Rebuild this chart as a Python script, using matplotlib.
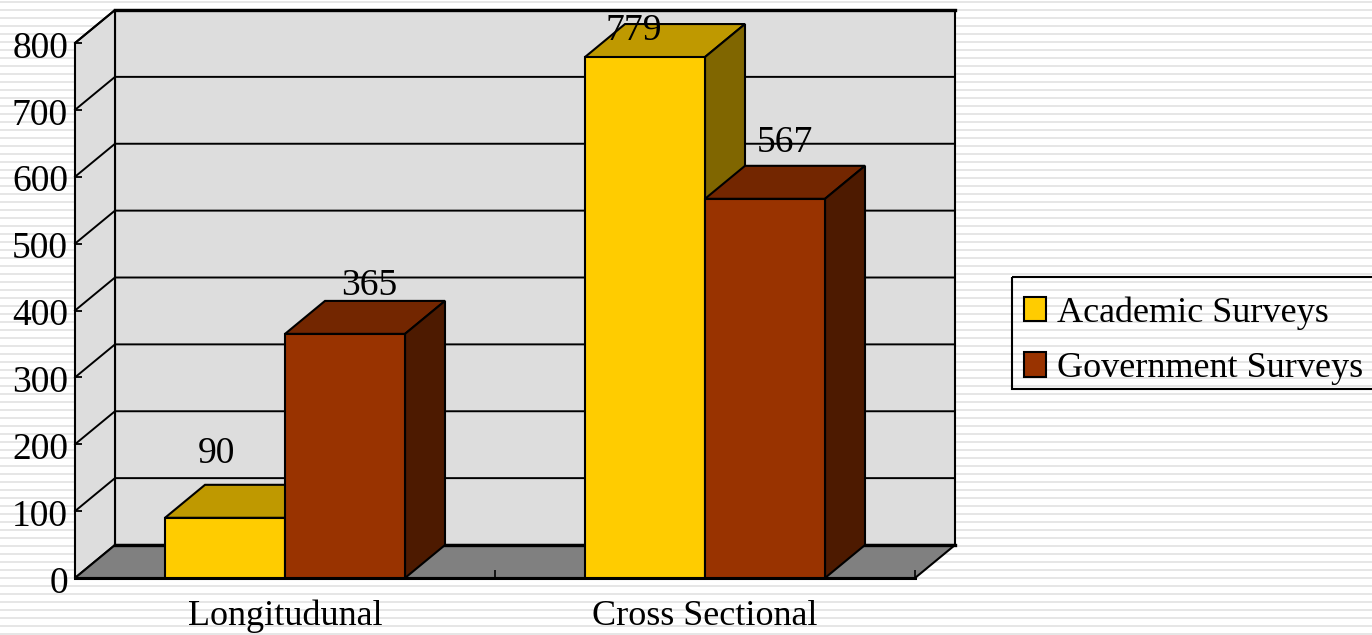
#!/usr/bin/env python3
"""Academic vs government surveys, 3D-look column chart."""

import matplotlib
matplotlib.use('Agg')
import matplotlib.pyplot as plt
from matplotlib.patches import Patch, Polygon, Rectangle
from matplotlib.transforms import ScaledTranslation

categories = ['Longitudunal', 'Cross Sectional']
series_names = ['Academic Surveys', 'Government Surveys']
academic = [90, 779]
government = [365, 567]
y_ticks = [0, 100, 200, 300, 400, 500, 600, 700, 800]

# (front, top, side) shades of each series
academic_colors = ('#FFCC00', '#BF9900', '#806600')
government_colors = ('#993300', '#732600', '#4D1A00')

# value label offset from the bar's top centre, in pixels
academic_shift = [(-9, 64), (-11, 26)]
government_shift = [(24, 48), (20, 56)]

W, H = 1372, 635
FONT = 'Liberation Serif'
plt.rcParams['font.family'] = FONT

fig = plt.figure(figsize=(W / 100, H / 100), dpi=100, facecolor='white')

# striped slide background
bg = fig.add_axes([0, 0, 1, 1], zorder=0)
bg.set_xlim(0, W)
bg.set_ylim(H, 0)
bg.axis('off')
for y in range(2, H, 8):
    bg.axhspan(y - 1.2, y + 1.2, color='#E6E6E6', lw=0)

# legend frame runs off the right edge of the slide
bg.add_patch(Rectangle((1012, 277), 380, 112, fill=False, edgecolor='black', linewidth=1.5))

# front plane of the plot box, in figure pixels
left, right, bottom, top = 75, 915, 578, 43
ax = fig.add_axes([left / W, 1 - bottom / H, (right - left) / W, (bottom - top) / H],
                  zorder=1)
ax.patch.set_visible(False)
ax.set_axisbelow(False)
ax.set_xlim(0, 2)
ax.set_ylim(0, 800)
for s in ax.spines.values():
    s.set_visible(False)

# depth of the 3D box in data units
dx = 40 * 2 / (right - left)
dy = 33 * 800 / (bottom - top)


def poly(points, face, z, lw=1.5):
    ax.add_patch(Polygon(points, closed=True, facecolor=face, edgecolor='black',
                         linewidth=lw, zorder=z, clip_on=False, joinstyle='miter'))


# walls and floor
poly([(dx, dy), (2 + dx, dy), (2 + dx, 800 + dy), (dx, 800 + dy)], '#DDDDDD', 1, 1.5)
poly([(0, 0), (dx, dy), (dx, 800 + dy), (0, 800)], '#DDDDDD', 1, 1.5)
poly([(0, 0), (2, 0), (2 + dx, dy), (dx, dy)], '#808080', 2, 1.5)

# heavier edges on the top and back of the floor
ax.plot([dx, 2 + dx], [800 + dy, 800 + dy], color='black', lw=2.4, zorder=3, clip_on=False)
ax.plot([dx, 2 + dx], [dy, dy], color='black', lw=2.4, zorder=3, clip_on=False)
ax.plot([0, 2], [0, 0], color='black', lw=2.2, zorder=3, clip_on=False)

# gridlines run up the side wall and across the back wall
for v in y_ticks[1:]:
    ax.plot([0, dx, 2 + dx], [v, v + dy, v + dy], color='black', lw=1.4, zorder=2,
            clip_on=False, solid_joinstyle='miter')

bar_w = 120 * 2 / (right - left)


def column(x0, value, colors, z):
    front, top_c, side = colors
    poly([(x0, value), (x0 + bar_w, value), (x0 + bar_w + dx, value + dy), (x0 + dx, value + dy)],
         top_c, z)
    poly([(x0 + bar_w, 0), (x0 + bar_w + dx, dy), (x0 + bar_w + dx, value + dy), (x0 + bar_w, value)],
         side, z)
    ax.bar(x0, value, width=bar_w, align='edge', color=front, edgecolor='black',
           linewidth=1.5, zorder=z)


def value_label(x, value, shift):
    # offsets are given in pixels, 0.72 pt per pixel at dpi 100
    ax.annotate(str(value), (x, value), xytext=(shift[0] * 0.72, shift[1] * 0.72),
                textcoords='offset points', ha='center', va='center',
                fontsize=27, zorder=8, annotation_clip=False)


for i in range(len(categories)):
    column(i + 0.5 - bar_w, academic[i], academic_colors, 4)
    column(i + 0.5, government[i], government_colors, 5)
    value_label(i + 0.5 - bar_w / 2, academic[i], academic_shift[i])
    value_label(i + 0.5 + bar_w / 2, government[i], government_shift[i])

ax.set_yticks(y_ticks)
ax.set_yticklabels([str(v) for v in y_ticks], fontsize=27, va='center')
ax.tick_params(axis='y', direction='in', length=5, width=1.3, pad=5)
down = ScaledTranslation(0, -5.5 / 100, fig.dpi_scale_trans)
for t in ax.get_yticklabels():
    t.set_transform(t.get_transform() + down)

ax.set_xticks([0, 1, 2])
ax.set_xticklabels([])
ax.set_xticks([0.5, 1.5], labels=categories, minor=True, fontsize=26)
ax.tick_params(axis='x', which='major', direction='in', length=6, width=1.2)
ax.tick_params(axis='x', which='minor', length=0, pad=15.5)

handles = [Patch(facecolor=academic_colors[0], edgecolor='black', linewidth=1.5),
           Patch(facecolor=government_colors[0], edgecolor='black', linewidth=1.5)]
fig.legend(handles, series_names, loc='upper left', bbox_to_anchor=(1024 / W, 1 - 296 / H),
           borderaxespad=0, borderpad=0, fontsize=26, handlelength=0.61, handleheight=0.67,
           handletextpad=0.3, labelspacing=0.63, frameon=False)

fig.savefig('out.png', dpi=100, facecolor='white')
